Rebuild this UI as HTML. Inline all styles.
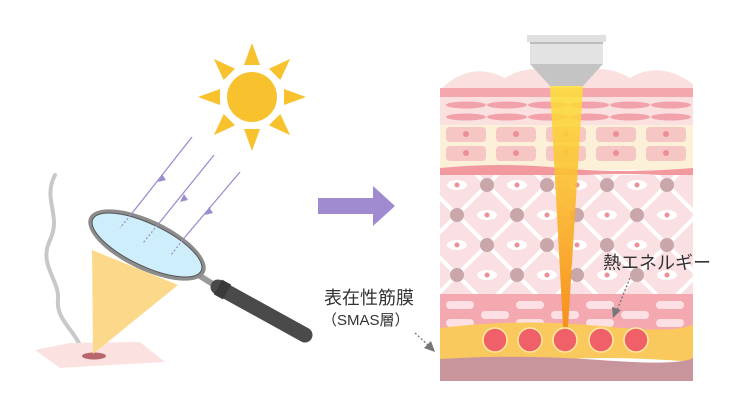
<!DOCTYPE html>
<html><head><meta charset="utf-8"><style>
html,body{margin:0;padding:0;background:#fff;}
svg{display:block;}
text{font-family:"Liberation Sans","Noto Sans CJK JP",sans-serif;}
</style></head><body>
<svg width="740" height="415" viewBox="0 0 740 415" xmlns="http://www.w3.org/2000/svg">
<defs>
<clipPath id="derm"><rect x="440" y="175" width="253" height="120"/></clipPath>
<linearGradient id="beam" x1="0" y1="0" x2="0" y2="1">
<stop offset="0" stop-color="#fde23a" stop-opacity="0.85"/>
<stop offset="0.5" stop-color="#fbb62a" stop-opacity="0.9"/>
<stop offset="1" stop-color="#f7901e"/>
</linearGradient>
</defs>

<!-- Sun -->
<g fill="#f8c22e">
<circle cx="252" cy="97" r="25"/>
<g transform="translate(252,97)">
<polygon points="-8,-32 8,-32 0,-54"/>
<polygon points="-8,-32 8,-32 0,-54" transform="rotate(45)"/>
<polygon points="-8,-32 8,-32 0,-54" transform="rotate(90)"/>
<polygon points="-8,-32 8,-32 0,-54" transform="rotate(135)"/>
<polygon points="-8,-32 8,-32 0,-54" transform="rotate(180)"/>
<polygon points="-8,-32 8,-32 0,-54" transform="rotate(225)"/>
<polygon points="-8,-32 8,-32 0,-54" transform="rotate(270)"/>
<polygon points="-8,-32 8,-32 0,-54" transform="rotate(315)"/>
</g>
</g>

<!-- smoke -->
<path d="M55,175 C42,200 62,215 50,240 C38,265 60,280 58,300 C56,320 75,330 82,350" fill="none" stroke="#c8c8c8" stroke-width="4" stroke-linecap="round"/>

<!-- skin patch -->
<path d="M35,350 L70,343 L140,342 L165,362 L110,365 L60,368 Z" fill="#fbe2e0"/>
<ellipse cx="94" cy="356" rx="12" ry="3.5" fill="#b8676e"/>

<!-- cone -->
<polygon points="92,250 178,285 93,354" fill="#fcd98a"/>

<!-- arrows -->
<g stroke="#9d8ccf" stroke-width="1.3" fill="none">
<line x1="192" y1="137" x2="133" y2="212"/>
<line x1="214" y1="155" x2="160" y2="222"/>
<line x1="240" y1="172" x2="185" y2="237"/>
</g>
<g fill="#9d8ccf">
<polygon points="162,174 158,182 166,180"/>
<polygon points="184,194 180,202 188,200"/>
<polygon points="209,207 205,215 213,213"/>
</g>

<!-- handle -->
<line x1="200" y1="276" x2="216" y2="286" stroke="#9a9a9a" stroke-width="6"/>
<line x1="218" y1="287" x2="305" y2="335" stroke="#4a4a4a" stroke-width="15" stroke-linecap="round"/>
<line x1="218" y1="287" x2="227" y2="292" stroke="#3a3a3a" stroke-width="17"/>

<!-- lens -->
<g transform="translate(147,245) rotate(25.5)">
<ellipse rx="64" ry="25" fill="#8c8c8c"/>
<ellipse rx="60" ry="21" fill="#cdeefa" stroke="#555" stroke-width="1"/>
</g>
<g stroke="#9d8ccf" stroke-width="1.2" stroke-dasharray="2,2">
<line x1="133" y1="212" x2="120" y2="228"/>
<line x1="160" y1="222" x2="143" y2="243"/>
<line x1="185" y1="237" x2="171" y2="255"/>
</g>

<!-- big arrow -->
<polygon points="318,198 373,198 373,186 395,206 373,226 373,214 318,214" fill="#a08ad0"/>

<!-- Skin panel -->
<path d="M440,90 Q470,60 505,78 Q535,60 565,78 Q600,60 630,78 Q660,60 693,84 L693,92 L440,92 Z" fill="#fbe0e0"/>
<rect x="440" y="88" width="253" height="9" fill="#f4a8ae"/>
<rect x="440" y="97" width="253" height="30" fill="#fbe0e0"/>
<g fill="#f2a2aa">
<ellipse cx="466" cy="105" rx="20" ry="3.5"/><ellipse cx="507" cy="105" rx="20" ry="3.5"/><ellipse cx="548" cy="105" rx="20" ry="3.5"/><ellipse cx="589" cy="105" rx="20" ry="3.5"/><ellipse cx="630" cy="105" rx="20" ry="3.5"/><ellipse cx="671" cy="105" rx="20" ry="3.5"/>
<ellipse cx="466" cy="117" rx="20" ry="3.5"/><ellipse cx="507" cy="117" rx="20" ry="3.5"/><ellipse cx="548" cy="117" rx="20" ry="3.5"/><ellipse cx="589" cy="117" rx="20" ry="3.5"/><ellipse cx="630" cy="117" rx="20" ry="3.5"/><ellipse cx="671" cy="117" rx="20" ry="3.5"/>
</g>
<rect x="440" y="125" width="253" height="45" fill="#fdf0d8"/>
<g fill="#f6c6c4">
<rect x="446" y="127" width="40" height="15" rx="4"/><rect x="496" y="127" width="40" height="15" rx="4"/><rect x="546" y="127" width="40" height="15" rx="4"/><rect x="596" y="127" width="40" height="15" rx="4"/><rect x="646" y="127" width="40" height="15" rx="4"/>
<rect x="446" y="146" width="40" height="15" rx="4"/><rect x="496" y="146" width="40" height="15" rx="4"/><rect x="546" y="146" width="40" height="15" rx="4"/><rect x="596" y="146" width="40" height="15" rx="4"/><rect x="646" y="146" width="40" height="15" rx="4"/>
</g>
<g fill="#ee8f98">
<circle cx="466" cy="134" r="3"/><circle cx="516" cy="134" r="3"/><circle cx="566" cy="134" r="3"/><circle cx="616" cy="134" r="3"/><circle cx="666" cy="134" r="3"/>
<circle cx="466" cy="153" r="3"/><circle cx="516" cy="153" r="3"/><circle cx="566" cy="153" r="3"/><circle cx="616" cy="153" r="3"/><circle cx="666" cy="153" r="3"/>
</g>
<path d="M440,168 Q500,162 560,168 T693,168 L693,177 Q620,171 560,177 T440,177 Z" fill="#f2999f"/>

<!-- dermis -->
<rect x="440" y="175" width="253" height="120" fill="#fbe0e3"/>
<g clip-path="url(#derm)" stroke="#fff" stroke-width="4">
<line x1="337" y1="155" x2="517" y2="335"/><line x1="397" y1="155" x2="577" y2="335"/><line x1="457" y1="155" x2="637" y2="335"/><line x1="517" y1="155" x2="697" y2="335"/><line x1="577" y1="155" x2="757" y2="335"/><line x1="637" y1="155" x2="817" y2="335"/><line x1="277" y1="155" x2="457" y2="335"/>
<line x1="397" y1="335" x2="577" y2="155"/><line x1="457" y1="335" x2="637" y2="155"/><line x1="517" y1="335" x2="697" y2="155"/><line x1="577" y1="335" x2="757" y2="155"/><line x1="637" y1="335" x2="817" y2="155"/><line x1="697" y1="335" x2="877" y2="155"/><line x1="337" y1="335" x2="517" y2="155"/>
</g>
<g fill="#c9a6aa">
<circle cx="487" cy="185" r="7"/><circle cx="547" cy="185" r="7"/><circle cx="607" cy="185" r="7"/><circle cx="667" cy="185" r="7"/>
<circle cx="457" cy="215" r="7"/><circle cx="517" cy="215" r="7"/><circle cx="577" cy="215" r="7"/><circle cx="637" cy="215" r="7"/>
<circle cx="487" cy="245" r="7"/><circle cx="547" cy="245" r="7"/><circle cx="607" cy="245" r="7"/><circle cx="667" cy="245" r="7"/>
<circle cx="457" cy="275" r="7"/><circle cx="517" cy="275" r="7"/><circle cx="577" cy="275" r="7"/><circle cx="637" cy="275" r="7"/>
</g>
<g>
<g fill="#fff"><ellipse cx="457" cy="185" rx="10" ry="5"/><ellipse cx="517" cy="185" rx="10" ry="5"/><ellipse cx="577" cy="185" rx="10" ry="5"/><ellipse cx="637" cy="185" rx="10" ry="5"/>
<ellipse cx="487" cy="215" rx="10" ry="5"/><ellipse cx="547" cy="215" rx="10" ry="5"/><ellipse cx="607" cy="215" rx="10" ry="5"/><ellipse cx="667" cy="215" rx="10" ry="5"/>
<ellipse cx="457" cy="245" rx="10" ry="5"/><ellipse cx="517" cy="245" rx="10" ry="5"/><ellipse cx="577" cy="245" rx="10" ry="5"/><ellipse cx="637" cy="245" rx="10" ry="5"/>
<ellipse cx="487" cy="275" rx="10" ry="5"/><ellipse cx="547" cy="275" rx="10" ry="5"/><ellipse cx="607" cy="275" rx="10" ry="5"/><ellipse cx="667" cy="275" rx="10" ry="5"/></g>
<g fill="#ee8f98"><circle cx="457" cy="185" r="2.5"/><circle cx="517" cy="185" r="2.5"/><circle cx="577" cy="185" r="2.5"/><circle cx="637" cy="185" r="2.5"/>
<circle cx="487" cy="215" r="2.5"/><circle cx="547" cy="215" r="2.5"/><circle cx="607" cy="215" r="2.5"/><circle cx="667" cy="215" r="2.5"/>
<circle cx="457" cy="245" r="2.5"/><circle cx="517" cy="245" r="2.5"/><circle cx="577" cy="245" r="2.5"/><circle cx="637" cy="245" r="2.5"/>
<circle cx="487" cy="275" r="2.5"/><circle cx="547" cy="275" r="2.5"/><circle cx="607" cy="275" r="2.5"/><circle cx="667" cy="275" r="2.5"/></g>
</g>

<!-- lower pink -->
<rect x="440" y="294" width="253" height="36" fill="#f4a9b0"/>
<g fill="#fce0e3">
<rect x="446" y="301" width="28" height="8" rx="4"/><rect x="516" y="301" width="28" height="8" rx="4"/><rect x="586" y="301" width="28" height="8" rx="4"/><rect x="656" y="301" width="28" height="8" rx="4"/>
<rect x="481" y="311" width="28" height="8" rx="4"/><rect x="551" y="311" width="28" height="8" rx="4"/><rect x="621" y="311" width="28" height="8" rx="4"/>
<rect x="446" y="319" width="28" height="8" rx="4"/><rect x="516" y="319" width="28" height="8" rx="4"/><rect x="586" y="319" width="28" height="8" rx="4"/><rect x="656" y="319" width="28" height="8" rx="4"/>
</g>
<!-- fat -->
<path d="M440,328 Q520,318 600,326 T693,324 L693,362 Q600,354 520,362 T440,360 Z" fill="#f9c95e"/>
<path d="M440,359 Q520,354 600,360 T693,358 L693,381 L440,381 Z" fill="#c9959c"/>
<g fill="#f06068" stroke="#fde9a0" stroke-width="1.5">
<circle cx="495" cy="340" r="12"/><circle cx="530" cy="340" r="12"/><circle cx="565" cy="340" r="12"/><circle cx="601" cy="340" r="12"/><circle cx="636" cy="340" r="12"/>
</g>

<!-- beam -->
<polygon points="550,86 583,86 568,327 563,327" fill="url(#beam)"/>

<!-- device -->
<rect x="527" y="35" width="79" height="7" fill="#e0e0e0"/>
<rect x="530" y="42" width="73" height="2" fill="#bdbdbd"/>
<rect x="530" y="44" width="73" height="20" fill="#e3e3e3"/>
<polygon points="530,64 603,64 583,86 550,86" fill="#c4c4c4"/>

<!-- labels -->
<text x="603" y="269" font-size="18" fill="#333">熱エネルギー</text>
<line x1="630" y1="278" x2="617" y2="310" stroke="#777" stroke-width="1.3" stroke-dasharray="2,2"/>
<polygon points="613,318 612,307 621,310" fill="#777"/>
<text x="324" y="304" font-size="18" fill="#333">表在性筋膜</text>
<text x="322" y="325" font-size="15" fill="#333">（SMAS層）</text>
<line x1="415" y1="333" x2="428" y2="345" stroke="#777" stroke-width="1.3" stroke-dasharray="2,2"/>
<polygon points="435,352 424,348 431,341" fill="#777"/>
</svg>
</body></html>
